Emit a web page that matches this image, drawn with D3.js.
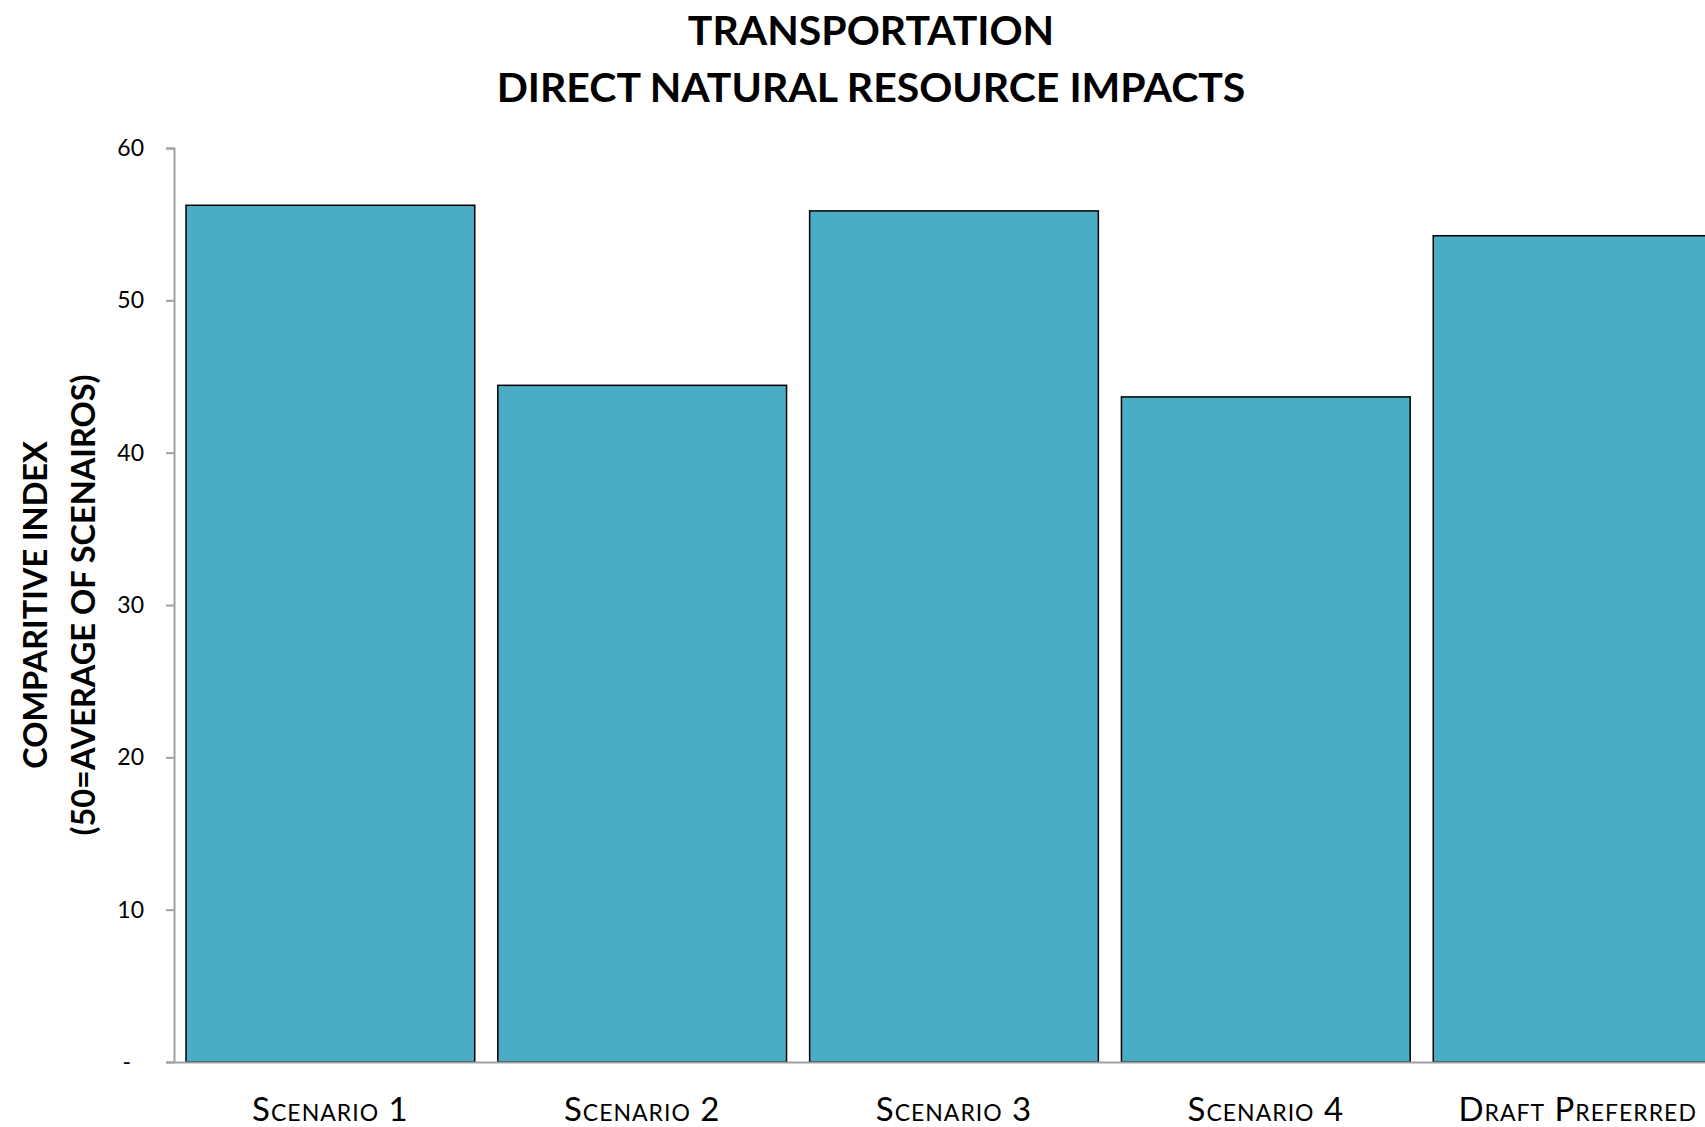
<!DOCTYPE html>
<html>
<head>
<meta charset="utf-8">
<script src="https://cdn.jsdelivr.net/npm/d3@7"></script>
<style>
    body { margin: 0; background: #fff; }
    svg { display: block; font-family: Lato, "Open Sans", sans-serif; }
    .tick text { fill: #000; }
</style>
</head>
<body>
<div id="chart"></div>
<script>
const scenarios = ['Scenario 1', 'Scenario 2', 'Scenario 3', 'Scenario 4', 'Draft Preferred'];
const indexValues = [56.24, 44.42, 55.87, 43.66, 54.24];
const yTicks = [0, 10, 20, 30, 40, 50, 60];
const titleLines = ['TRANSPORTATION', 'DIRECT NATURAL RESOURCE IMPACTS'];
const yTitleLines = ['COMPARITIVE INDEX', '(50=AVERAGE OF SCENAIROS)'];

function draw() {
    const dimensions = {
        width: 1705,
        height: 1127,
        left: 174,
        right: 1734, // plot runs past the picture edge, last bar is cut off
        top: 148,
        bottom: 1062
    };

    const svg = d3.select('#chart')
        .append('svg')
        .attr('width', dimensions.width)
        .attr('height', dimensions.height);

    // Scales
    const xScale = d3.scaleBand()
        .domain(scenarios)
        .range([dimensions.left, dimensions.right])
        .paddingInner(0.074)
        .paddingOuter(0.0385);

    const yScale = d3.scaleLinear()
        .domain([0, 60])
        .range([dimensions.bottom, dimensions.top]);

    // Bars
    svg.append('g')
        .selectAll('rect')
        .data(scenarios)
        .join('rect')
        .attr('x', d => xScale(d))
        .attr('y', (d, i) => yScale(indexValues[i]))
        .attr('width', xScale.bandwidth())
        .attr('height', (d, i) => yScale(0) - yScale(indexValues[i]))
        .attr('fill', '#4bacc6')
        .attr('stroke', '#000')
        .attr('stroke-width', 1.5);

    // Y axis
    const yAxis = d3.axisLeft(yScale)
        .tickValues(yTicks)
        .tickSize(8)
        .tickPadding(22)
        .tickFormat(d => d === 0 ? '-' : d);

    const yAxisGroup = svg.append('g')
        .attr('transform', `translate(${dimensions.left}, 0)`)
        .call(yAxis)
        .attr('font-family', null)
        .attr('font-size', null);

    yAxisGroup.selectAll('path, line')
        .attr('stroke', '#a0a0a0')
        .attr('stroke-width', 2);
    yAxisGroup.selectAll('text')
        .style('font-size', '23px')
        .attr('dx', d => d === 0 ? -13 : 0);

    // X axis
    const xAxis = d3.axisBottom(xScale)
        .tickSize(0)
        .tickSizeOuter(0);

    const xAxisGroup = svg.append('g')
        .attr('transform', `translate(0, ${dimensions.bottom})`)
        .call(xAxis)
        .attr('font-family', null)
        .attr('font-size', null);

    xAxisGroup.select('.domain')
        .attr('stroke', '#a0a0a0')
        .attr('stroke-width', 2);
    xAxisGroup.selectAll('text')
        .attr('y', 59)
        .attr('dy', null)
        .style('font-size', '33px')
        .style('letter-spacing', '1px')
        .style('font-variant', 'small-caps');

    // Title
    svg.append('g')
        .selectAll('text')
        .data(titleLines)
        .join('text')
        .attr('x', 871)
        .attr('y', (d, i) => 45 + i * 57)
        .attr('text-anchor', 'middle')
        .style('font-size', '41px')
        .style('font-weight', 'bold')
        .text(d => d);

    // Y axis title
    svg.append('g')
        .attr('transform', 'translate(0, 605) rotate(-90)')
        .selectAll('text')
        .data(yTitleLines)
        .join('text')
        .attr('x', 0)
        .attr('y', (d, i) => 47 + i * 48)
        .attr('text-anchor', 'middle')
        .style('font-size', '32.5px')
        .style('font-weight', 'bold')
        .text(d => d);
}

draw();
</script>
</body>
</html>
